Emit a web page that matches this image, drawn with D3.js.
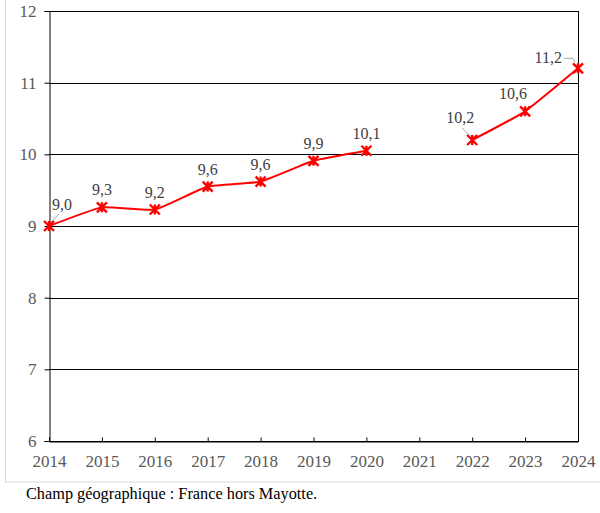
<!DOCTYPE html>
<html>
<head>
<meta charset="utf-8">
<script src="https://cdn.jsdelivr.net/npm/d3@7"></script>
<style>
  body { margin: 0; background: #fff; }
  svg { display: block; }
</style>
</head>
<body>
<svg id="chart" width="600" height="513"></svg>
<script>
const years = [2014, 2015, 2016, 2017, 2018, 2019, 2020, 2021, 2022, 2023, 2024];
const values = [9.0, 9.26, 9.23, 9.55, 9.62, 9.91, 10.05, null, 10.2, 10.6, 11.2];
const labels = ["9,0", "9,3", "9,2", "9,6", "9,6", "9,9", "10,1", null, "10,2", "10,6", "11,2"];
const yTicks = [6, 7, 8, 9, 10, 11, 12];
const caption = "Champ géographique : France hors Mayotte.";

const svg = d3.select("#chart");
const font = "'Liberation Serif', serif";

const x = d3.scaleLinear().domain([2014, 2024]).range([49, 578]);
const y = d3.scaleLinear().domain([6, 12]).range([441, 11]);

// outer chart frame (light grey)
svg.append("rect")
  .attr("x", 5.5).attr("y", -2)
  .attr("width", 600).attr("height", 484)
  .attr("fill", "none")
  .attr("stroke", "#d9d9d9");

// gridlines
svg.append("g")
  .selectAll("line")
  .data(yTicks)
  .join("line")
  .attr("x1", x(2014)).attr("x2", x(2024))
  .attr("y1", (d) => Math.round(y(d)) + 0.5)
  .attr("y2", (d) => Math.round(y(d)) + 0.5)
  .attr("stroke", "#000");

// right border
svg.append("line")
  .attr("x1", Math.round(x(2024)) + 0.5).attr("x2", Math.round(x(2024)) + 0.5)
  .attr("y1", y(12)).attr("y2", y(6))
  .attr("stroke", "#000");

// y axis
const yAxis = svg.append("g")
  .attr("transform", `translate(${Math.round(x(2014)) + 0.5},0)`)
  .call(d3.axisLeft(y).tickValues(yTicks).tickSize(5).tickPadding(8).tickFormat(d3.format("d")));
yAxis.select(".domain").attr("stroke", "#000");
yAxis.selectAll(".tick line").attr("stroke", "#000");
yAxis.selectAll(".tick text")
  .attr("fill", "#595959")
  .style("font-family", font)
  .style("font-size", "17px");

// x axis
const xAxis = svg.append("g")
  .attr("transform", `translate(0,${Math.round(y(6)) + 0.5})`)
  .call(d3.axisBottom(x).tickValues(years).tickSize(-4).tickPadding(13).tickFormat(d3.format("d")));
xAxis.select(".domain").attr("stroke", "#000");
xAxis.selectAll(".tick line").attr("stroke", "#000");
xAxis.selectAll(".tick text")
  .attr("fill", "#595959")
  .style("font-family", font)
  .style("font-size", "17px");

// line
const pts = years.map((yr, i) => ({ yr, v: values[i], label: labels[i] }));
const line = d3.line()
  .defined((d) => d.v != null)
  .x((d) => x(d.yr))
  .y((d) => y(d.v))
  .curve(d3.curveCardinal.tension(0.6));

svg.append("path")
  .datum(pts)
  .attr("d", line)
  .attr("fill", "none")
  .attr("stroke", "#ff0000")
  .attr("stroke-width", 2);

// star markers
const valid = pts.filter((d) => d.v != null);
const s = 5;
svg.append("g")
  .selectAll("path.marker")
  .data(valid)
  .join("path")
  .attr("class", "marker")
  .attr("transform", (d) => `translate(${x(d.yr)},${y(d.v)})`)
  .attr("d", `M${-s},${-s}L${s},${s}M${-s},${s}L${s},${-s}M0,${-s}L0,${s}`)
  .attr("stroke", "#ff0000")
  .attr("stroke-width", 2.4);

// data labels
const offsets = {
  2014: [13, -16, "middle"],
  2015: [0, -12, "middle"],
  2016: [0, -12, "middle"],
  2017: [0, -12, "middle"],
  2018: [0, -12, "middle"],
  2019: [0, -12, "middle"],
  2020: [0, -12, "middle"],
  2022: [-12, -17, "middle"],
  2023: [-12, -12, "middle"],
  2024: [-16, -5, "end"],
};
svg.append("g")
  .selectAll("text")
  .data(valid)
  .join("text")
  .attr("x", (d) => x(d.yr) + offsets[d.yr][0])
  .attr("y", (d) => y(d.v) + offsets[d.yr][1])
  .attr("text-anchor", (d) => offsets[d.yr][2])
  .attr("fill", "#404040")
  .style("font-family", font)
  .style("font-size", "16px")
  .text((d) => d.label);

// leader lines
const leaders = [2014, 2022, 2024];
svg.append("g")
  .selectAll("path")
  .data(leaders)
  .join("path")
  .attr("d", (yr) => {
    const cx = x(yr), cy = y(values[years.indexOf(yr)]);
    if (yr === 2014) return `M${cx + 2},${cy - 4}L${cx + 10},${cy - 12}`;
    if (yr === 2022) return `M${cx - 2},${cy - 4}L${cx - 10},${cy - 12}`;
    return `M${cx - 3},${cy - 6}L${cx - 5},${cy - 10}L${cx - 14},${cy - 10}`;
  })
  .attr("fill", "none")
  .attr("stroke", "#a6a6a6")
  .attr("stroke-width", 1);

// caption
svg.append("text")
  .attr("x", 26)
  .attr("y", 499)
  .attr("fill", "#000")
  .style("font-family", font)
  .style("font-size", "16.3px")
  .text(caption);
</script>
</body>
</html>
